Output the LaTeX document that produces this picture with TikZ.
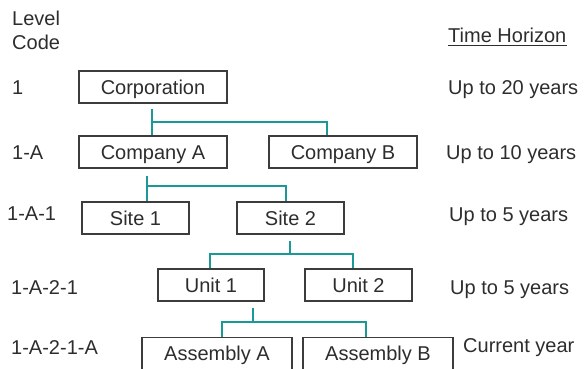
\documentclass[tikz,border=0pt]{standalone}
\usepackage{fontspec}
\setmainfont{Liberation Sans}
\usepackage{tikz}
\usetikzlibrary{positioning,calc}
\definecolor{linkteal}{RGB}{28,152,152}
\definecolor{inkgrey}{RGB}{45,45,45}
\definecolor{boxgrey}{RGB}{60,60,60}
\tikzset{
    unitbox/.style={draw=boxgrey, line width=1.2bp, minimum height=32bp, inner sep=0pt, text=inkgrey, text height=14.3bp, text depth=0bp},
    cutbox/.style={unitbox, minimum height=40bp, text depth=8bp, anchor=north},
    link/.style={draw=linkteal, line width=1.5bp},
    lbl/.style={anchor=west, inner sep=0pt, text=inkgrey, text height=14.3bp, text depth=0bp}
}

\begin{document}
\begin{tikzpicture}[x=1bp, y=-1bp, font=\fontsize{20bp}{24bp}\selectfont]
    \useasboundingbox (0,0) rectangle (587,368);
    \clip (0,0) rectangle (587,368);

    \node[anchor=west, inner sep=0pt, text=inkgrey, align=left] (lvl) at (12,30) {Level\\Code};
    \node[lbl] (c1) at (12,87) {1};
    \node[lbl] (c1a) at (12,152) {1-A};
    \node[lbl] (c1a1) at (7,213) {1-A-1};
    \node[lbl] (c1a21) at (11,287) {1-A-2-1};
    \node[lbl] (c1a21a) at (11,347) {1-A-2-1-A};

    \node[lbl] (th) at (448,35) {Time Horizon};
    \draw[inkgrey, line width=1.6bp] ([yshift=-3.5bp]th.base west) -- ([yshift=-3.5bp]th.base east);
    \node[lbl] (t1) at (448,87) {Up to 20 years};
    \node[lbl] (t2) at (446,152) {Up to 10 years};
    \node[lbl] (t3) at (449,214) {Up to 5 years};
    \node[lbl] (t4) at (450,287) {Up to 5 years};
    \node[lbl] (t5) at (463,345) {Current year};

    \node[unitbox, minimum width=148bp] (corp) at (153,87) {Corporation};
    \node[unitbox, minimum width=148bp] (compA) at (153,152) {Company A};
    \node[unitbox, minimum width=148bp] (compB) at (343,152) {Company B};
    \node[unitbox, minimum width=107bp] (site1) at (135.5,218) {Site 1};
    \node[unitbox, minimum width=107bp] (site2) at (290.5,218) {Site 2};
    \node[unitbox, minimum width=106bp] (unit1) at (211,285) {Unit 1};
    \node[unitbox, minimum width=107bp] (unit2) at (358.5,285) {Unit 2};
    \node[cutbox, minimum width=150bp] (asmA) at (217,337) {Assembly A};
    \node[cutbox, minimum width=150bp] (asmB) at (378,337) {Assembly B};

    \coordinate (j1) at (152,122);
    \coordinate (j2) at (147,186);
    \coordinate (j3) at (290,254);
    \coordinate (j4) at (253,322);

    \draw[link] ([yshift=-5bp]j1 |- corp.south) -- (j1 |- compA.north);
    \draw[link] (j1) -| ([xshift=-16bp]compB.north);

    \draw[link] ([yshift=-7bp]j2 |- compA.south) -- (j2 |- site1.north);
    \draw[link] (j2) -| ([xshift=-4.5bp]site2.north);

    \draw[link] ([yshift=-6bp]j3 |- site2.south) -- (j3);
    \draw[link] ([xshift=-1bp]unit1.north) |- (j3) -| ([xshift=-5.5bp]unit2.north);

    \draw[link] ([yshift=-6bp]j4 |- unit1.south) -- (j4);
    \draw[link] ([xshift=5bp]asmA.north) |- (j4) -| ([xshift=-12bp]asmB.north);
\end{tikzpicture}
\end{document}
